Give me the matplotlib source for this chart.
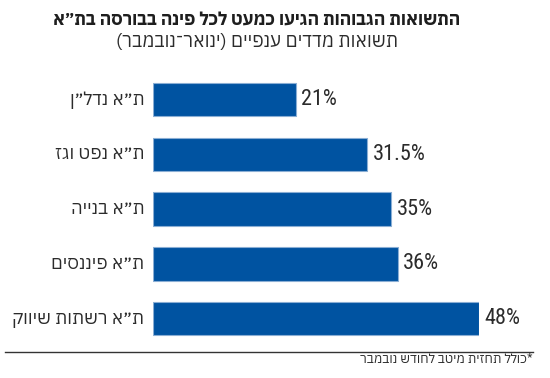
import matplotlib
matplotlib.use("Agg")
import matplotlib.pyplot as plt
import logging
logging.getLogger('matplotlib.font_manager').setLevel(logging.ERROR)

HEB = ['IBM Plex Sans Hebrew', 'DejaVu Sans']
NUM = ['Roboto Condensed', 'Liberation Sans Narrow', 'IBM Plex Sans Hebrew', 'DejaVu Sans']
plt.rcParams['font.family'] = HEB

title = 'התשואות הגבוהות הגיעו כמעט לכל פינה בבורסה בת״א'
subtitle = 'תשואות מדדים ענפיים (ינואר־נובמבר)'
footnote = '*כולל תחזית מיטב לחודש נובמבר'
categories = ['ת״א נדל״ן', 'ת״א נפט וגז', 'ת״א בנייה', 'ת״א פיננסים', 'ת״א רשתות שיווק']
values = [21, 31.5, 35, 36, 48]
value_labels = ['21%', '31.5%', '35%', '36%', '48%']


def rtl(s):
    r = s[::-1]
    return r.translate(str.maketrans('()', ')('))


W, H = 550, 378
fig = plt.figure(figsize=(W / 100, H / 100), dpi=100)
renderer = fig.canvas.get_renderer()


def fit(t, target_px):
    w = t.get_window_extent(renderer).width
    t.set_fontsize(t.get_fontsize() * target_px / w)


x0, x1 = 152.7, 479.3
ytop, ybot = 72.3, 345.9
ax = fig.add_axes([x0 / W, 1 - ybot / H, (x1 - x0) / W, (ybot - ytop) / H])
ypos = list(range(len(values)))
ax.barh(ypos, values, height=0.61, color='#0053a1', edgecolor='#8aaed4', linewidth=0.8)
ax.set_xlim(0, max(values))
ax.set_ylim(len(values) - 0.5, -0.5)
ax.axis('off')

vtexts, ctexts = [], []
for y, v, lab, cat in zip(ypos, values, value_labels, categories):
    vtexts.append(ax.annotate(lab, (v, y), xytext=(4, 0), textcoords='offset points',
                              ha='left', va='center', fontsize=15, color='#2b2b2b',
                              family=NUM, fontweight='normal'))
    ctexts.append(ax.annotate(rtl(cat), (0, y), xytext=(-6, 0), textcoords='offset points',
                              ha='right', va='center', fontsize=15, color='#2b2b2b'))

# scale label fonts to (roughly) the reference widths
fit(vtexts[1], 53)
for t in vtexts:
    t.set_fontsize(vtexts[1].get_fontsize())
fit(ctexts[4], 132)
for t in ctexts:
    t.set_fontsize(ctexts[4].get_fontsize())

tt = fig.text(257 / W, 1 - 20 / H, rtl(title), ha='center', va='center',
              fontsize=16, fontweight='bold', color='#1e1e1e')
fit(tt, 412)
st = fig.text(257 / W, 1 - 42 / H, rtl(subtitle), ha='center', va='center',
              fontsize=15, color='#2b2b2b')
fit(st, 285)

fig.add_artist(plt.Line2D([5 / W, 533 / W], [1 - 352.3 / H, 1 - 352.3 / H],
                          color='#333333', linewidth=1.0))
ft = fig.text(533 / W, 1 - 359.5 / H, rtl(footnote), ha='right', va='center',
              fontsize=8.5, color='#2b2b2b')
fit(ft, 172)

fig.savefig('out.png', dpi=100, facecolor='white')
